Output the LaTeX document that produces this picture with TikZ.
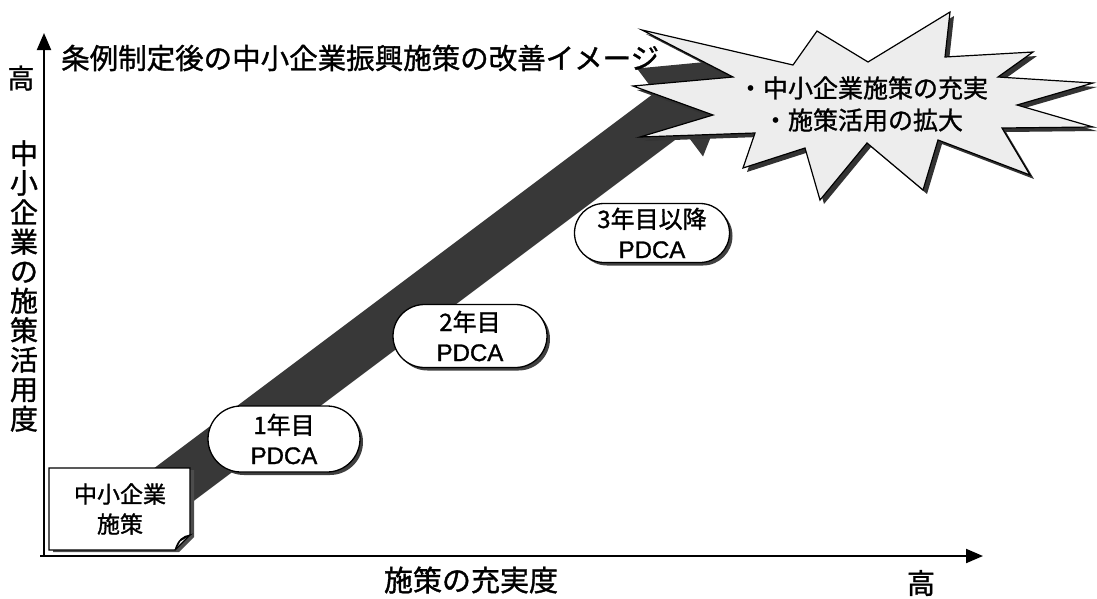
\documentclass[tikz,border=0pt]{standalone}
\usepackage{fontspec}
\setmainfont{Noto Sans CJK JP}[RawFeature={embolden=1.2}]
\newfontfamily\lat{Liberation Sans}[RawFeature={embolden=1.2}]
\usetikzlibrary{arrows.meta,shapes.misc,shadows}
\tikzset{
  axis/.style={line width=2pt,-{Triangle[length=17pt,width=14pt]}},
  band/.style={fill=black!78},
  pill/.style={rounded rectangle, draw=black, line width=1.3pt, fill=white, align=center, inner sep=0pt,
    font=\fontsize{24}{30}\selectfont,
    drop shadow={shadow xshift=3pt, shadow yshift=-3pt, fill=black!75, opacity=1}},
  burst/.style={insert path={(642,30) -- (793,65) -- (817,31) -- (868,62) -- (950,12) -- (945,57) -- (1033,52) -- (998,77) -- (1093,83) -- (1017,105) -- (1093,127) -- (1002,128) -- (1030,175) -- (938,140) -- (923,190) -- (867,143) -- (820,200) -- (805,148) -- (743,168) -- (755,133) -- (640,137) -- (713,115) -- (633,86) -- (733,77) -- cycle}},
  boxpath/.style={insert path={(49,468) -- (190,468) -- (190,535) -- (175,550) -- (49,550) -- cycle}},
  lbl/.style={inner sep=0pt, align=center}
}
\begin{document}
\begin{tikzpicture}[x=1pt,y=-1pt]
\useasboundingbox (0,0) rectangle (1097,598);
% axes
\coordinate (origin) at (44,556);
\coordinate (xstart) at (40,556);
\coordinate (ytip) at (44,33);
\coordinate (xtip) at (983,556);
\draw[axis] (origin) -- (ytip);
\draw[axis] (xstart) -- (xtip);
% axis labels
\node[lbl, font=\fontsize{27}{27}\selectfont] (yhigh) at (21,78) {高};
\node[lbl, font=\fontsize{28}{29.5}\selectfont] (ylabel) at (24,286) {中\\小\\企\\業\\の\\施\\策\\活\\用\\度};
\node[lbl, font=\fontsize{28}{28}\selectfont] (xhigh) at (921,583) {高};
\node[lbl, font=\fontsize{29}{29}\selectfont] (xlabel) at (471,580) {施策の充実度};
% big arrow band
\fill[band] (125,490) -- (655,92.5) -- (637,68.5) -- (742,58.5) -- (703,156.5) -- (685,132.5) -- (155,530) -- cycle;
% PDCA pills
\node[pill, minimum width=152pt, minimum height=66pt] (p1) at (284,439) {1年目\\{\lat PDCA}};
\node[pill, minimum width=154pt, minimum height=63pt] (p2) at (470,336) {2年目\\{\lat PDCA}};
\node[pill, minimum width=155pt, minimum height=59pt] (p3) at (652,233) {3年目以降\\{\lat PDCA}};
% start box
\fill[black!70, shift={(4,2)}, boxpath];
\draw[fill=white, line width=1.2pt, boxpath];
\draw[fill=black!8, line width=1pt] (190,535) .. controls (183,536) and (178,540) .. (175,550) -- (180,541) -- cycle;
\node[lbl, font=\fontsize{23}{30}\selectfont] (start) at (120,509) {中小企業\\施策};
% starburst
\fill[black!80, shift={(4,4)}, burst];
\draw[fill=black!7, line width=1.2pt, burst];
\node[lbl, font=\fontsize{25}{32}\selectfont] (result) at (863,104) {・中小企業施策の充実\\・施策活用の拡大};
% title
\node[lbl, font=\fontsize{28.5}{28.5}\selectfont, anchor=west] (title) at (61,58) {条例制定後の中小企業振興施策の改善イメージ};
\end{tikzpicture}
\end{document}
